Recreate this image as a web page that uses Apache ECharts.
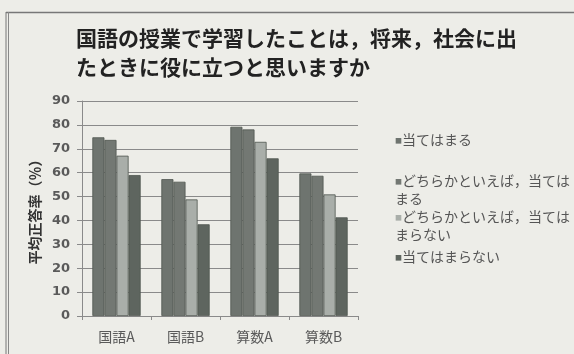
<!DOCTYPE html>
<html>
<head>
<meta charset="utf-8">
<script src="https://cdn.jsdelivr.net/npm/echarts@6/dist/echarts.min.js"></script>
<style>
  html, body { margin: 0; padding: 0; background: #edede8; }
  #chart { width: 574px; height: 354px; }
</style>
</head>
<body>
<div id="chart"></div>
<script>
// 教科別・回答別の平均正答率
const categories = ['国語A', '国語B', '算数A', '算数B'];
const seriesNames = [
  '当てはまる',
  'どちらかといえば，当てはまる',
  'どちらかといえば，当てはまらない',
  '当てはまらない'
];
const legendLabels = [
  '当てはまる',
  'どちらかといえば，当ては\nまる',
  'どちらかといえば，当ては\nまらない',
  '当てはまらない'
];
const valuesApply = [74.8, 57.3, 79.2, 59.7];
const valuesRatherApply = [73.7, 56.2, 78.1, 58.7];
const valuesRatherNot = [67.1, 48.8, 72.9, 50.9];
const valuesNot = [59.0, 38.4, 66.0, 41.3];
const yTicks = [0, 10, 20, 30, 40, 50, 60, 70, 80, 90];

const seriesValues = [valuesApply, valuesRatherApply, valuesRatherNot, valuesNot];
const barColors = ['#6e746f', '#737873', '#a9aea9', '#5e655f'];
const legendTops = [131, 172, 208, 248];
const FONT = '"Noto Sans CJK JP", "Noto Sans", sans-serif';
const NUM_FONT = '"DejaVu Sans", "Noto Sans", sans-serif';

const chart = echarts.init(document.getElementById('chart'));

// 凡例：マーカーを行頭の■として描き、2 行目を■の位置から始める
const legends = seriesNames.map((name, i) => ({
  data: [name],
  orient: 'vertical',
  left: 390,
  top: legendTops[i],
  padding: 0,
  icon: 'none',
  itemWidth: 0,
  itemHeight: 10,
  formatter: () => {
    const lines = legendLabels[i].split('\n');
    return '{m' + i + '|■}{t|' + lines[0] + '}' +
      (lines[1] ? '\n{t|' + lines[1] + '}' : '');
  },
  textStyle: {
    fontFamily: FONT,
    fontSize: 14,
    color: '#555',
    lineHeight: 18,
    rich: {
      t: { fontFamily: FONT, fontSize: 14, color: '#555', lineHeight: 18 },
      ['m' + i]: { fontFamily: FONT, fontSize: 7, color: barColors[i], lineHeight: 18 }
    }
  }
}));

chart.setOption({
  backgroundColor: '#edede8',
  animation: false,
  title: {
    text: '国語の授業で学習したことは，将来，社会に出\nたときに役に立つと思いますか',
    left: 76,
    top: 24,
    padding: 0,
    textStyle: {
      fontFamily: FONT,
      fontSize: 21,
      fontWeight: 'bold',
      color: '#222',
      lineHeight: 29
    }
  },
  legend: legends,
  grid: { left: 82, right: 216, top: 101, bottom: 38, containLabel: false },
  xAxis: {
    type: 'category',
    data: categories,
    axisLine: { lineStyle: { color: '#8a8a8a', width: 1 } },
    axisTick: { show: true, length: 4, lineStyle: { color: '#8a8a8a' } },
    axisLabel: { fontFamily: FONT, fontSize: 14, color: '#5a5a5a', margin: 14 }
  },
  yAxis: {
    type: 'value',
    min: 0,
    max: 90,
    interval: 10,
    name: '平均正答率（％）',
    nameLocation: 'middle',
    nameRotate: 90,
    nameGap: 40,
    nameTextStyle: { fontFamily: FONT, fontSize: 14, fontWeight: 'bold', color: '#333' },
    axisLine: { show: true, lineStyle: { color: '#8a8a8a', width: 1 } },
    axisTick: { show: true, length: 5, lineStyle: { color: '#8a8a8a' } },
    axisLabel: {
      fontFamily: NUM_FONT, fontSize: 13, fontWeight: 'bold', color: '#5a5a5a', margin: 12,
      formatter: v => (yTicks.indexOf(v) >= 0 ? String(v) : '')
    },
    splitLine: { show: true, lineStyle: { color: '#8a8a8a', width: 1 } }
  },
  series: seriesNames.map((name, i) => ({
    name: name,
    type: 'bar',
    data: seriesValues[i],
    barGap: '0%',
    barCategoryGap: '30%',
    itemStyle: { color: barColors[i], borderColor: '#4f554f', borderWidth: 0.8 }
  })),
  graphic: [
    // 外枠（上辺と左辺の二重線）
    { type: 'line', silent: true, shape: { x1: 6, y1: 12.5, x2: 574, y2: 12.5 }, style: { stroke: '#777', lineWidth: 1.5 } },
    { type: 'line', silent: true, shape: { x1: 6, y1: 12, x2: 6, y2: 354 }, style: { stroke: '#777', lineWidth: 1 } },
    { type: 'line', silent: true, shape: { x1: 8.5, y1: 12, x2: 8.5, y2: 354 }, style: { stroke: '#888', lineWidth: 1 } }
  ]
});
</script>
</body>
</html>
